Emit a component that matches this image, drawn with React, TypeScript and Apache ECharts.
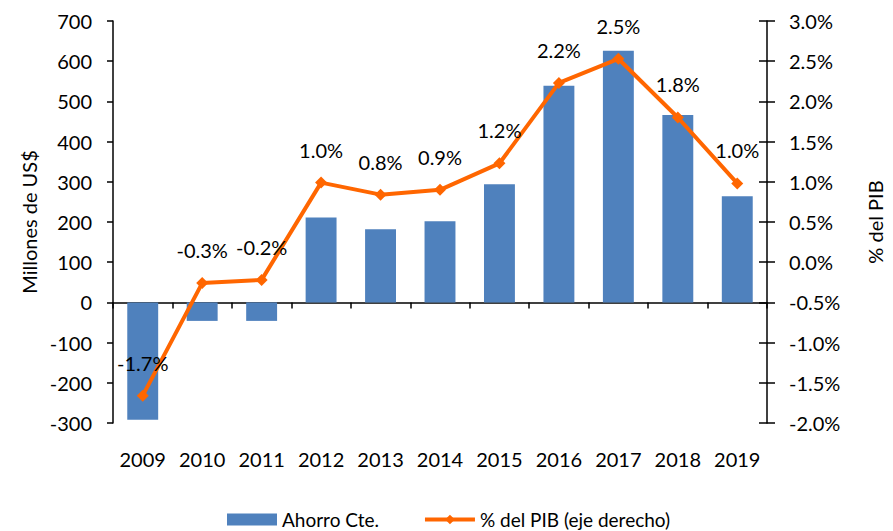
import React, { useEffect, useRef } from "react";
import * as echarts from "echarts";

const years = ["2009", "2010", "2011", "2012", "2013", "2014", "2015", "2016", "2017", "2018", "2019"];
const ahorroCte = [-292, -46, -46, 211, 182, 202, 294, 539, 626, 466, 264];
const pctPib = [-1.66, -0.26, -0.22, 0.99, 0.84, 0.9, 1.23, 2.23, 2.53, 1.8, 0.98];
const leftTicks = { min: -300, max: 700, interval: 100 };
const rightTicks = { min: -2, max: 3, interval: 0.5 };

const FONT = "Lato";
const FS = 20;

export default function App() {
  const ref = useRef<HTMLDivElement>(null);
  useEffect(() => {
    document.body.style.margin = "0";
    const chart = echarts.init(ref.current!, null, { renderer: "svg" });
    const axisColor = "#000";
    chart.setOption({
      animation: false,
      textStyle: { fontFamily: FONT, color: "#000" },
      grid: { left: 113, right: 122, top: 21, bottom: 108 },
      legend: {
        left: 222,
        top: 505,
        itemWidth: 50,
        itemHeight: 12,
        itemGap: 44,
        textStyle: { fontFamily: FONT, fontSize: 19, color: "#000" },
        data: [
          { name: "Ahorro Cte.", icon: "rect" },
          { name: "% del PIB (eje derecho)", lineStyle: { width: 4, color: "#FF6600" } },
        ],
      },
      xAxis: [
        {
          type: "category",
          data: years,
          position: "bottom",
          axisLine: { onZero: true, onZeroAxisIndex: 0, lineStyle: { color: axisColor, width: 1.5 } },
          axisTick: { show: true, length: 6, interval: 0, lineStyle: { color: axisColor, width: 1.5 } },
          axisLabel: { show: false },
          splitLine: { show: false },
        },
        {
          type: "category",
          data: years,
          position: "bottom",
          axisLine: { show: false, onZero: false },
          axisTick: { show: false },
          axisLabel: { margin: 26, fontSize: FS, fontFamily: FONT, color: "#000", interval: 0 },
          splitLine: { show: false },
        },
      ],
      yAxis: [
        {
          type: "value",
          position: "left",
          ...leftTicks,
          name: "Millones de US$",
          nameLocation: "middle",
          nameRotate: 90,
          nameGap: 74,
          nameTextStyle: { fontSize: FS, fontFamily: FONT, color: "#000" },
          axisLine: { show: true, lineStyle: { color: axisColor, width: 1.5 } },
          axisTick: { show: true, length: 6, lineStyle: { color: axisColor, width: 1.5 } },
          axisLabel: { margin: 21, fontSize: FS, fontFamily: FONT, color: "#000" },
          splitLine: { show: false },
        },
        {
          type: "value",
          position: "right",
          ...rightTicks,
          name: "% del PIB",
          nameLocation: "middle",
          nameRotate: 90,
          nameGap: 98,
          nameTextStyle: { fontSize: FS, fontFamily: FONT, color: "#000" },
          axisLine: { show: true, lineStyle: { color: axisColor, width: 1.5 } },
          axisTick: { show: true, length: 8, lineStyle: { color: axisColor, width: 1.5 } },
          axisLabel: {
            margin: 22,
            fontSize: FS,
            fontFamily: FONT,
            color: "#000",
            formatter: (v: number) => v.toFixed(1) + "%",
          },
          splitLine: { show: false },
        },
        {
          type: "value",
          position: "right",
          ...rightTicks,
          axisLine: { show: false },
          axisTick: { show: true, inside: true, length: 8, lineStyle: { color: axisColor, width: 1.5 } },
          axisLabel: { show: false },
          splitLine: { show: false },
        },
      ],
      series: [
        {
          name: "Ahorro Cte.",
          type: "bar",
          xAxisIndex: 0,
          yAxisIndex: 0,
          data: ahorroCte,
          barWidth: "52%",
          itemStyle: { color: "#4F81BD" },
        },
        {
          name: "% del PIB (eje derecho)",
          type: "line",
          xAxisIndex: 0,
          yAxisIndex: 1,
          data: pctPib,
          symbol: "diamond",
          symbolSize: 12,
          lineStyle: { color: "#FF6600", width: 4 },
          itemStyle: { color: "#FF6600" },
          label: {
            show: true,
            position: "top",
            distance: 17,
            fontSize: FS,
            fontFamily: FONT,
            color: "#000",
            formatter: (p: any) => Number(p.value).toFixed(1) + "%",
          },
          z: 3,
        },
      ],
    });
    return () => chart.dispose();
  }, []);
  return <div ref={ref} style={{ width: 893, height: 531 }} />;
}
